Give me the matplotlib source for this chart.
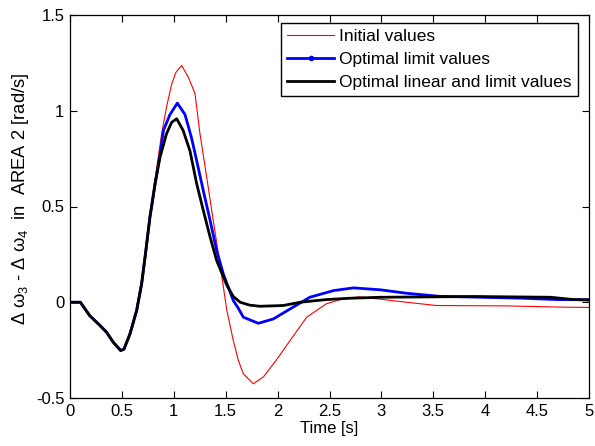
import matplotlib
matplotlib.use("Agg")
import matplotlib.pyplot as plt
from matplotlib.lines import Line2D

plt.rcParams['font.family'] = ['Liberation Sans', 'DejaVu Sans']
plt.rcParams['mathtext.default'] = 'regular'

t_red = [0, 0.1, 0.19, 0.29, 0.353, 0.417, 0.488, 0.52, 0.578, 0.642, 0.69, 0.723, 0.77,
         0.835, 0.883, 0.93, 0.98, 1.02, 1.076, 1.14, 1.204, 1.252, 1.317, 1.38, 1.445,
         1.51, 1.573, 1.62, 1.67, 1.766, 1.863, 1.99, 2.12, 2.28, 2.47, 2.63, 2.78,
         2.99, 3.24, 3.53, 4.2, 4.78, 5.0]
y_red = [0, 0, -0.07, -0.122, -0.157, -0.209, -0.252, -0.245, -0.165, -0.043, 0.096, 0.235, 0.444,
         0.70, 0.88, 1.02, 1.14, 1.20, 1.236, 1.175, 1.09, 0.88, 0.653, 0.427, 0.2,
         -0.04, -0.2, -0.30, -0.374, -0.426, -0.39, -0.30, -0.2, -0.078, -0.008, 0.018, 0.028,
         0.016, 0.0, -0.017, -0.019, -0.026, -0.027]

t_blue = [0, 0.1, 0.19, 0.29, 0.353, 0.417, 0.488, 0.52, 0.578, 0.642, 0.69, 0.723, 0.77,
          0.82, 0.867, 0.90, 0.963, 1.034, 1.108, 1.17, 1.22, 1.284, 1.35, 1.413, 1.477,
          1.573, 1.62, 1.67, 1.814, 1.96, 2.12, 2.31, 2.54, 2.73, 2.99, 3.24, 3.56,
          4.36, 4.69, 5.0]
y_blue = [0, 0, -0.07, -0.122, -0.157, -0.209, -0.252, -0.245, -0.165, -0.043, 0.096, 0.235, 0.444,
          0.62, 0.77, 0.897, 0.98, 1.04, 0.98, 0.86, 0.74, 0.583, 0.427, 0.27, 0.148,
          0.009, -0.03, -0.078, -0.11, -0.087, -0.035, 0.026, 0.061, 0.075, 0.065, 0.047, 0.031,
          0.021, 0.014, 0.013]

t_black = [0, 0.1, 0.19, 0.29, 0.353, 0.417, 0.488, 0.52, 0.578, 0.642, 0.69, 0.723, 0.77,
           0.82, 0.867, 0.93, 0.98, 1.028, 1.09, 1.156, 1.22, 1.284, 1.35, 1.413, 1.51,
           1.573, 1.64, 1.73, 1.83, 2.055, 2.216, 2.47, 2.70, 2.99, 3.9, 4.63, 4.85, 5.0]
y_black = [0, 0, -0.07, -0.122, -0.157, -0.209, -0.252, -0.245, -0.165, -0.043, 0.096, 0.235, 0.444,
           0.62, 0.757, 0.88, 0.94, 0.958, 0.897, 0.79, 0.62, 0.48, 0.34, 0.218, 0.09,
           0.03, 0.0, -0.015, -0.021, -0.017, 0.0, 0.014, 0.021, 0.026, 0.03, 0.026, 0.014, 0.012]

labels = ["Initial values", "Optimal limit values", "Optimal linear and limit values"]
x_ticks = [0, 0.5, 1, 1.5, 2, 2.5, 3, 3.5, 4, 4.5, 5]
x_ticklabels = ["0", "0.5", "1", "1.5", "2", "2.5", "3", "3.5", "4", "4.5", "5"]
y_ticks = [-0.5, 0, 0.5, 1, 1.5]
y_ticklabels = ["-0.5", "0", "0.5", "1", "1.5"]

fig = plt.figure(figsize=(5.95, 4.46), dpi=100)
ax = fig.add_axes([70/595, 1 - 398/446, (589 - 70)/595, (398 - 15)/446])

ax.plot(t_red, y_red, color='red', lw=0.8)
ax.plot(t_blue, y_blue, color='blue', lw=2.0)
ax.plot(t_black, y_black, color='black', lw=2.0)

ax.set_xlim(0, 5)
ax.set_ylim(-0.5, 1.5)
ax.set_xticks(x_ticks)
ax.set_xticklabels(x_ticklabels)
ax.set_yticks(y_ticks)
ax.set_yticklabels(y_ticklabels)
ax.tick_params(direction='in', length=5, width=0.8, top=True, right=True,
               labelsize=12, pad=4)
for s in ax.spines.values():
    s.set_linewidth(0.9)

ax.set_xlabel("Time [s]", fontsize=12, labelpad=2)
ax.set_ylabel(r"Δ $\omega_3$ - Δ $\omega_4$  in  AREA 2 [rad/s]", fontsize=13.2)
ax.yaxis.set_label_coords(-0.076, 0.52)

handles = [Line2D([], [], color='red', lw=0.8),
           Line2D([], [], color='blue', lw=2.0, marker='.', markersize=6),
           Line2D([], [], color='black', lw=2.0)]
leg = ax.legend(handles, labels, loc='upper right', bbox_to_anchor=(1 - 11/519, 1 - 8/383),
                fontsize=12.5, frameon=True, fancybox=False, framealpha=1,
                edgecolor='black', handlelength=2.7, handletextpad=0.3,
                borderpad=0.35, labelspacing=0.45, borderaxespad=0)
leg.get_frame().set_linewidth(1.0)

fig.savefig("out.png", dpi=100)
